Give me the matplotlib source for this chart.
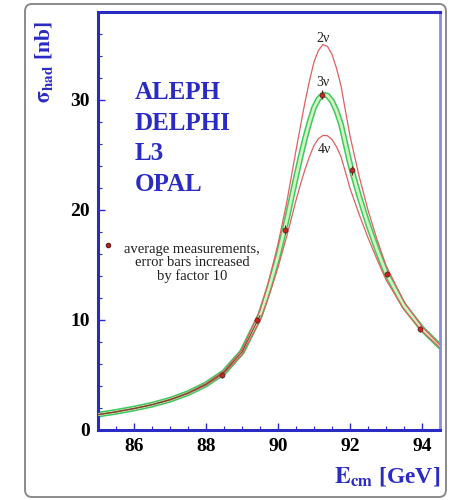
import matplotlib
matplotlib.use("Agg")
import matplotlib.pyplot as plt
from matplotlib.patches import FancyBboxPatch
from matplotlib.ticker import MultipleLocator

# centre-of-mass energy grid [GeV] for the model curves
energy = [85.0, 85.5, 86.0, 86.5, 87.0, 87.5, 88.0, 88.5, 89.0, 89.5, 89.75,
          90.0, 90.25, 90.5, 90.625, 90.75, 90.875, 91.0, 91.125, 91.25,
          91.375, 91.5, 91.625, 91.75, 91.875, 92.0, 92.25, 92.5, 92.75,
          93.0, 93.5, 94.0, 94.5]

# hadronic cross section [nb] for 2, 3 and 4 light neutrino species
sigma_2nu = [1.41, 1.66, 1.96, 2.32, 2.78, 3.39, 4.22, 5.37, 7.32, 10.88, 13.62,
             16.89, 20.83, 25.42, 27.65, 29.81, 31.75, 33.46, 34.52, 35.04,
             34.87, 34.15, 32.89, 31.28, 28.99, 26.74, 23.11, 19.99, 17.32,
             14.96, 11.65, 9.40, 7.72]
sigma_3nu = [1.40, 1.65, 1.95, 2.30, 2.75, 3.35, 4.15, 5.25, 7.10, 10.4, 12.9,
             15.8, 19.2, 23.0, 24.8, 26.5, 28.0, 29.3, 30.1, 30.5,
             30.4, 29.9, 29.0, 27.8, 26.0, 24.2, 21.3, 18.7, 16.4,
             14.3, 11.3, 9.2, 7.6]
sigma_4nu = [1.39, 1.64, 1.94, 2.28, 2.72, 3.31, 4.08, 5.13, 6.87, 9.93, 12.20,
             14.77, 17.70, 20.88, 22.34, 23.69, 24.86, 25.87, 26.49, 26.78,
             26.75, 26.40, 25.75, 24.85, 23.43, 21.97, 19.64, 17.48, 15.51,
             13.66, 10.94, 8.99, 7.47]

# averaged LEP measurements (errors x10)
meas_energy = [88.44, 89.42, 90.19, 91.22, 92.05, 93.03, 93.94]
meas_sigma = [5.0, 10.0, 18.2, 30.5, 23.6, 14.2, 9.2]
meas_err = [0.3, 0.3, 0.4, 0.4, 0.4, 0.3, 0.3]

nu_labels = ["2\u03bd", "3\u03bd", "4\u03bd"]
nu_label_pos = [(91.25, 35.6), (91.25, 31.6), (91.3, 25.5)]

experiments = ["ALEPH", "DELPHI", "L3", "OPAL"]

blue = "#2a2ac4"
plt.rcParams["font.family"] = ["Liberation Serif", "DejaVu Serif"]
plt.rcParams["mathtext.fontset"] = "stix"

fig = plt.figure(figsize=(4.5, 5), dpi=100)
fig.patch.set_facecolor("white")

# rounded outer frame
frame = FancyBboxPatch((25 / 450, 3 / 500), 421 / 450, 493 / 500,
                       boxstyle="round,pad=0,rounding_size=0.015",
                       transform=fig.transFigure, facecolor="none",
                       edgecolor="#8a8a8a", linewidth=1.4)
fig.patches.append(frame)

ax = fig.add_axes([98 / 450, 70 / 500, 342 / 450, 418 / 500])

# 3 neutrino band, then 2 and 4 neutrino curves
ax.plot(energy, sigma_3nu, color="#3fc860", lw=4.2, solid_capstyle="round", zorder=2)
ax.plot(energy, sigma_3nu, color="#d2f2c2", lw=2.0, zorder=3)
ax.plot(energy, sigma_2nu, color="#e06060", lw=0.9, zorder=4)
ax.plot(energy, sigma_4nu, color="#e06060", lw=0.9, zorder=4)
ax.plot(energy[:10], sigma_3nu[:10], color="#6a4a2a", lw=0.8, zorder=4)

ax.errorbar(meas_energy, meas_sigma, yerr=meas_err, fmt="o", ms=3.5,
            mfc="#d02020", mec="#602020", mew=0.6, ecolor="#602020",
            elinewidth=0.8, capsize=0, zorder=6)

for lab, (x, y) in zip(nu_labels, nu_label_pos):
    ax.text(x, y, lab, fontsize=10, ha="center", va="center", color="#202020")

ax.text(0.108, 0.835, "\n".join(experiments), transform=ax.transAxes,
        fontsize=18, fontweight="bold", color=blue, ha="left", va="top",
        linespacing=1.42)

ax.plot([0.03], [0.443], "o", ms=3, mfc="#d02020", mec="#602020",
        transform=ax.transAxes)
ax.text(0.275, 0.447, "average measurements,\nerror bars increased\nby factor 10",
        transform=ax.transAxes, fontsize=10.5, ha="center", va="top",
        color="#202020", linespacing=1.0)

ax.set_xlim(85.0, 94.5)
ax.set_ylim(0, 38)
ax.xaxis.set_major_locator(MultipleLocator(2))
ax.xaxis.set_minor_locator(MultipleLocator(0.5))
ax.yaxis.set_major_locator(MultipleLocator(10))
ax.yaxis.set_minor_locator(MultipleLocator(2))
ax.tick_params(which="both", direction="in", color=blue, top=False, right=False)
ax.tick_params(which="major", length=5, width=1, labelsize=14, pad=6)
ax.tick_params(which="minor", length=3, width=0.8)
for lab in ax.get_xticklabels() + ax.get_yticklabels():
    lab.set_fontweight("bold")

for side in ["left", "bottom", "top"]:
    ax.spines[side].set_color(blue)
    ax.spines[side].set_linewidth(2.2)
ax.spines["right"].set_color("#8c8ce0")
ax.spines["right"].set_linewidth(2.0)

fig.text(45 / 450, 1 - 62 / 500, r"$\mathbf{\sigma_{had}}$ [nb]", rotation=90,
         fontsize=15.5, fontweight="bold", color=blue, ha="center", va="center")
fig.text(440 / 450, 18 / 500, r"$\mathbf{E_{cm}}$ [GeV]", fontsize=17,
         fontweight="bold", color=blue, ha="right", va="baseline")

fig.savefig("out.png", dpi=100)
